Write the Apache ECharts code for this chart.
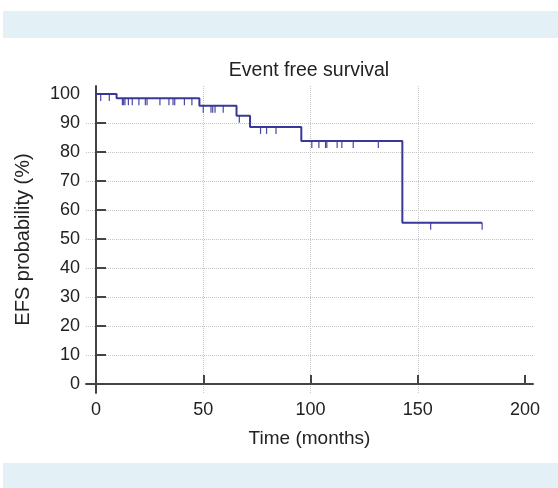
<!DOCTYPE html>
<html>
<head>
<meta charset="utf-8">
<script src="https://cdn.jsdelivr.net/npm/echarts@6/dist/echarts.min.js"></script>
<style>
  html, body { margin: 0; padding: 0; background: #fff; }
  #chart { width: 558px; height: 488px; }
</style>
</head>
<body>
<div id="chart"></div>
<script>
// Kaplan-Meier steps: survival drops at these times
var eventTimes = [9.6, 48.2, 65.5, 71.8, 95.7, 142.8]
var survival = [100, 98.6, 96.0, 92.5, 88.7, 83.8, 55.6]
var lastTime = 180
// censored observations (months)
var censorTimes = [2.2, 6.2, 12.3, 12.9, 13.5, 15.1, 16.9, 20.0, 23.0, 23.8, 29.8,
  34.0, 35.9, 36.7, 41.2, 44.7, 50.0, 53.6, 54.4, 55.5, 59.3, 66.8, 76.7, 79.5,
  83.9, 100.6, 103.9, 107.0, 107.6, 112.4, 114.6, 119.9, 131.6, 156.0, 180.0]
var xTicks = [0, 50, 100, 150, 200]
var yTicks = [0, 10, 20, 30, 40, 50, 60, 70, 80, 90, 100]

function levelAt(t) {
  var s = survival[0]
  for (var i = 0; i < eventTimes.length; i++) {
    if (t >= eventTimes[i]) s = survival[i + 1]
  }
  return s
}

var curve = [[0, survival[0]]]
eventTimes.forEach(function (t, i) { curve.push([t, survival[i + 1]]) })
curve.push([lastTime, survival[survival.length - 1]])

var censorData = censorTimes.map(function (t) { return [t, levelAt(t)] })

var lineColor = '#38389b'
var axisColor = '#444'
var textColor = '#222'
var font = 'Liberation Sans, Arial, sans-serif'

var chart = echarts.init(document.getElementById('chart'))
chart.setOption({
  animation: false,
  graphic: [
    { type: 'rect', shape: { x: 3, y: 11, width: 555, height: 27 }, style: { fill: '#e3f1f6' } },
    { type: 'rect', shape: { x: 3, y: 463, width: 555, height: 25 }, style: { fill: '#e3f1f6' } }
  ],
  title: {
    text: 'Event free survival',
    left: 304,
    top: 56,
    textAlign: 'center',
    textStyle: { fontFamily: font, fontSize: 19.5, fontWeight: 'normal', color: textColor }
  },
  grid: { left: 86, right: 25, top: 86, bottom: 95 },
  xAxis: {
    type: 'value',
    min: -4.66,
    max: 203.7,
    name: 'Time (months)',
    nameLocation: 'middle',
    nameGap: 36,
    nameTextStyle: { fontFamily: font, fontSize: 19, color: textColor },
    axisLine: { lineStyle: { color: axisColor, width: 2 } },
    axisTick: { inside: true, length: 9, lineStyle: { color: axisColor, width: 2 }, customValues: xTicks },
    axisLabel: { margin: 8, fontFamily: font, fontSize: 18, color: textColor, customValues: xTicks },
    splitLine: { show: true, showMinLine: false, showMaxLine: false, lineStyle: { color: '#c4c4c4', type: [1, 1], width: 1 } }
  },
  yAxis: {
    type: 'value',
    min: -3.1,
    max: 102.8,
    name: 'EFS probability (%)',
    nameLocation: 'middle',
    nameGap: 53,
    nameTextStyle: { fontFamily: font, fontSize: 20, color: textColor },
    axisLine: { lineStyle: { color: axisColor, width: 2 } },
    axisTick: { inside: true, length: 10, lineStyle: { color: axisColor, width: 2 }, customValues: yTicks },
    axisLabel: { margin: 6, fontFamily: font, fontSize: 18, color: textColor, customValues: yTicks },
    splitLine: { show: true, showMinLine: false, showMaxLine: false, lineStyle: { color: '#c4c4c4', type: [1, 1], width: 1 } }
  },
  series: [
    {
      type: 'line',
      step: 'end',
      data: curve,
      symbol: 'none',
      lineStyle: { color: lineColor, width: 2 },
      z: 3
    },
    {
      type: 'custom',
      data: censorData,
      renderItem: function (params, api) {
        var p = api.coord([api.value(0), api.value(1)])
        return {
          type: 'line',
          shape: { x1: p[0], y1: p[1], x2: p[0], y2: p[1] + 7 },
          style: { stroke: '#4848a4', lineWidth: 1.2 }
        }
      },
      z: 2
    }
  ]
})
</script>
</body>
</html>
